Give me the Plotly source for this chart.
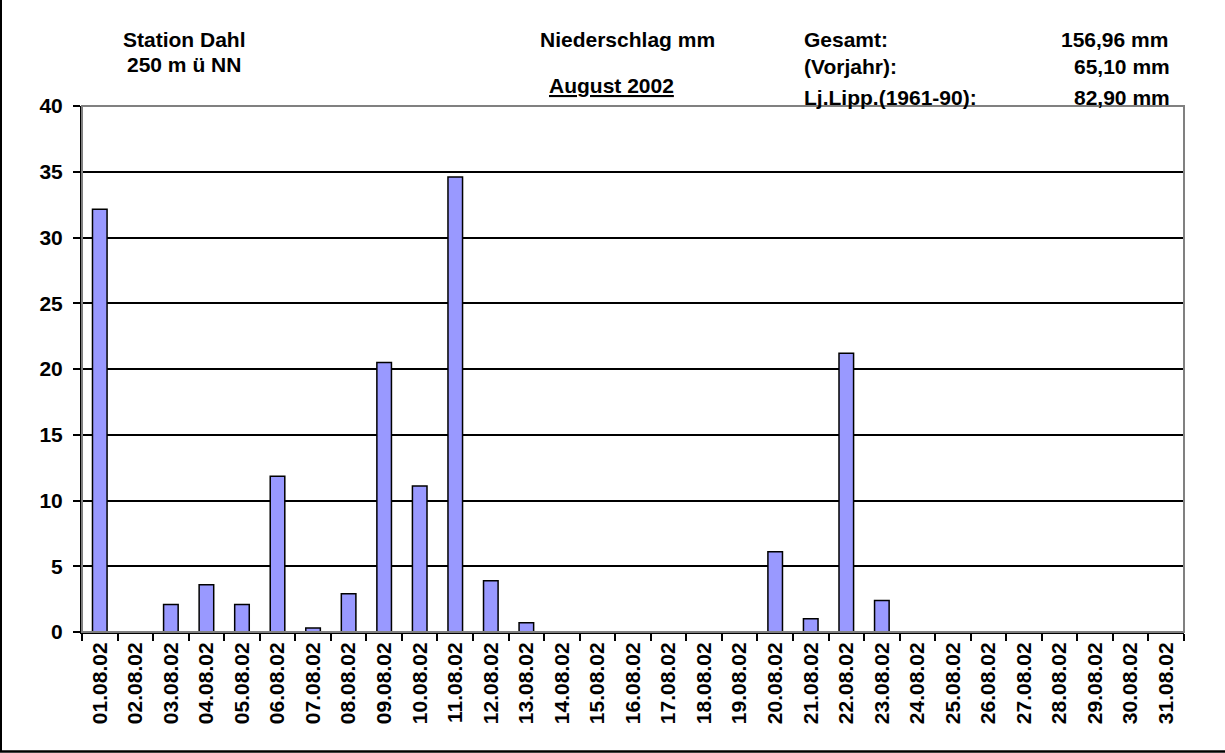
import plotly.graph_objects as go

dates = ["01.08.02", "02.08.02", "03.08.02", "04.08.02", "05.08.02", "06.08.02",
         "07.08.02", "08.08.02", "09.08.02", "10.08.02", "11.08.02", "12.08.02",
         "13.08.02", "14.08.02", "15.08.02", "16.08.02", "17.08.02", "18.08.02",
         "19.08.02", "20.08.02", "21.08.02", "22.08.02", "23.08.02", "24.08.02",
         "25.08.02", "26.08.02", "27.08.02", "28.08.02", "29.08.02", "30.08.02",
         "31.08.02"]
rain_mm = [32.15, 0.0, 2.1, 3.6, 2.1, 11.85, 0.3, 2.9, 20.5, 11.1, 34.6, 3.9,
           0.7, 0.0, 0.0, 0.0, 0.0, 0.0, 0.0, 6.1, 1.0, 21.2, 2.4, 0.0,
           0.0, 0.0, 0.0, 0.0, 0.0, 0.0, 0.0]
y_ticks = [0, 5, 10, 15, 20, 25, 30, 35, 40]

W, H = 1225, 753
ML, MR, MT, MB = 82, 41, 106, 121
PW, PH = W - ML - MR, H - MT - MB

def px(x):
    return (x - ML) / PW

def py(y):
    return 1 - (y - MT) / PH

FONT = "Liberation Sans, Arial, sans-serif"
FS = 21

fig = go.Figure()
fig.add_trace(go.Bar(
    x=dates, y=rain_mm,
    marker=dict(color="#9999FF", line=dict(color="black", width=1.5)),
    hoverinfo="skip",
))

def txt(s, x, y, anchor):
    fig.add_annotation(text=s, x=px(x), y=py(y), xref="paper", yref="paper",
                       xanchor=anchor, yanchor="middle", showarrow=False,
                       font=dict(family=FONT, size=FS, color="black", weight="bold"))

txt("Station Dahl", 184, 40, "center")
txt("250 m ü NN", 184, 65, "center")
txt("Niederschlag mm", 627, 40, "center")
txt("<u>August 2002</u>", 611, 86, "center")
txt("Gesamt:", 802, 40, "left")
txt("(Vorjahr):", 802, 66, "left")
txt("Lj.Lipp.(1961-90):", 802, 97, "left")
txt("156,96 mm", 1170, 40, "right")
txt("65,10 mm", 1172, 66, "right")
txt("82,90 mm", 1172, 97, "right")

# plot-area border (grey top/right)
fig.add_shape(type="rect", xref="paper", yref="paper", x0=0, x1=1, y0=0, y1=1,
              line=dict(color="#808080", width=2), layer="above")
# outer frame (left and bottom)
fig.add_shape(type="line", xref="paper", yref="paper",
              x0=px(1), x1=px(1), y0=py(0), y1=py(752),
              line=dict(color="black", width=2))
fig.add_shape(type="line", xref="paper", yref="paper",
              x0=px(0), x1=px(W), y0=py(751.5), y1=py(751.5),
              line=dict(color="black", width=2.5))

fig.update_layout(
    width=W, height=H,
    margin=dict(l=ML, r=MR, t=MT, b=MB, autoexpand=False),
    paper_bgcolor="white", plot_bgcolor="white",
    bargap=0.59, showlegend=False,
    font=dict(family=FONT, size=FS, color="black", weight="bold"),
)
fig.update_xaxes(
    type="category", showline=True, linecolor="black", linewidth=2,
    ticks="outside", tickson="boundaries", ticklen=7, tickwidth=2, tickcolor="black",
    tickangle=-90, showgrid=False, mirror=False,
    tickfont=dict(family=FONT, size=FS, color="black", weight="bold"),
)
fig.update_yaxes(
    range=[0, 40], tickvals=y_ticks, showline=True, linecolor="black", linewidth=2,
    ticks="outside", ticklen=7, tickwidth=2, tickcolor="black", ticklabelstandoff=6,
    showgrid=True, gridcolor="black", gridwidth=2, zeroline=False,
    tickfont=dict(family=FONT, size=FS, color="black", weight="bold"),
)

fig.write_html("out.html", config={"displayModeBar": False, "staticPlot": True},
               post_script="document.body.style.margin='0';document.body.style.overflow='hidden';")
